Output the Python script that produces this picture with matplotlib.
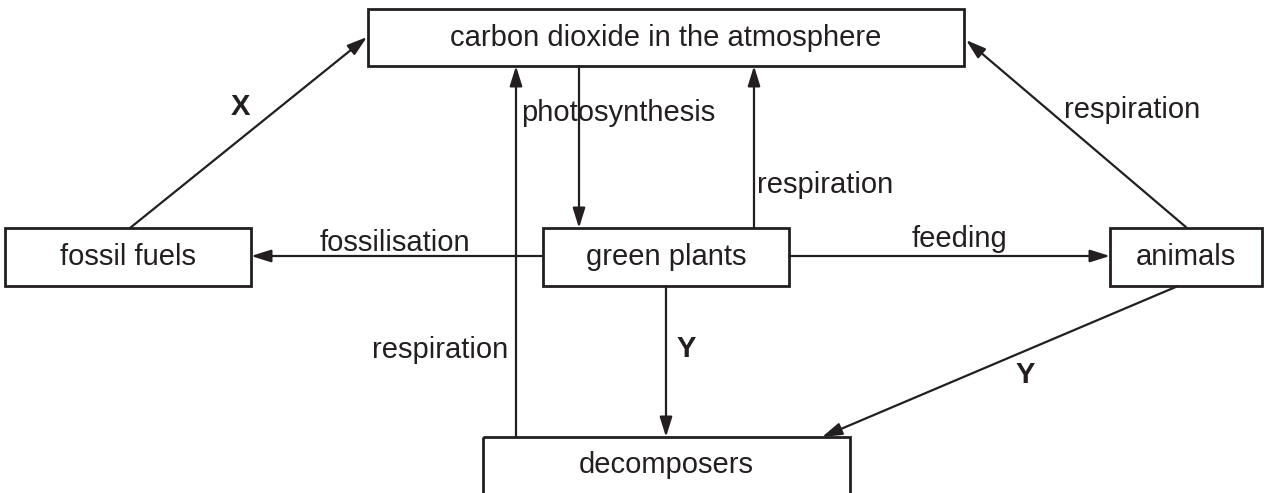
import matplotlib.pyplot as plt
from matplotlib.patches import FancyArrowPatch, Rectangle

# boxes: name -> label
box_names = ["co2", "fossil", "green", "animals", "decomp"]
box_labels = [
    "carbon dioxide in the atmosphere",
    "fossil fuels",
    "green plants",
    "animals",
    "decomposers",
]

# arrows: (label, bold)
arrow_labels = [
    ("X", True),
    ("respiration", False),
    ("photosynthesis", False),
    ("respiration", False),
    ("respiration", False),
    ("fossilisation", False),
    ("feeding", False),
    ("Y", True),
    ("Y", True),
]

# layout in pixel coordinates (x0, y0, x1, y1), y downwards
box_pos = {
    "co2": (368, 9, 964, 66),
    "fossil": (5, 228, 251, 286),
    "green": (543, 228, 789, 286),
    "animals": (1110, 228, 1262, 286),
    "decomp": (483, 437, 850, 520),
}
arrow_pos = [
    ((130, 228), (367, 37)),
    ((1187, 228), (966, 40)),
    ((579, 66), (579, 228)),
    ((754, 228), (754, 66)),
    ((516, 437), (516, 66)),
    ((543, 256), (251, 256)),
    ((789, 256), (1110, 256)),
    ((666, 286), (666, 437)),
    ((1178, 286), (822, 437)),
]
label_pos = [
    (240, 107, "center"),
    (1064, 110, "left"),
    (521, 113, "left"),
    (757, 185, "left"),
    (508, 350, "right"),
    (395, 243, "center"),
    (960, 239, "center"),
    (686, 349, "center"),
    (1025, 375, "center"),
]

plt.rcParams["font.family"] = ["Liberation Sans", "DejaVu Sans"]
ink = "#231f20"
fs = 21

fig = plt.figure(figsize=(12.64, 4.93), dpi=100)
ax = fig.add_axes([0, 0, 1, 1])
ax.set_xlim(0, 1264)
ax.set_ylim(493, 0)
ax.axis("off")

for name, label in zip(box_names, box_labels):
    x0, y0, x1, y1 = box_pos[name]
    ax.add_patch(Rectangle((x0, y0), x1 - x0, y1 - y0, fill=False, edgecolor=ink, linewidth=2.0))
    cy = (y0 + y1) / 2 if name != "decomp" else 465
    ax.text((x0 + x1) / 2, cy, label, ha="center", va="center", fontsize=fs, color=ink)

for (start, end) in arrow_pos:
    arr = FancyArrowPatch(
        start, end,
        arrowstyle="-|>,head_length=0.8,head_width=0.25",
        mutation_scale=15,
        color=ink,
        linewidth=1.6,
        shrinkA=0,
        shrinkB=0,
    )
    ax.add_patch(arr)

for (label, bold), (x, y, ha) in zip(arrow_labels, label_pos):
    ax.text(x, y, label, ha=ha, va="center", fontsize=fs, color=ink,
            fontweight="bold" if bold else "normal")

fig.savefig("out.png", dpi=100)
